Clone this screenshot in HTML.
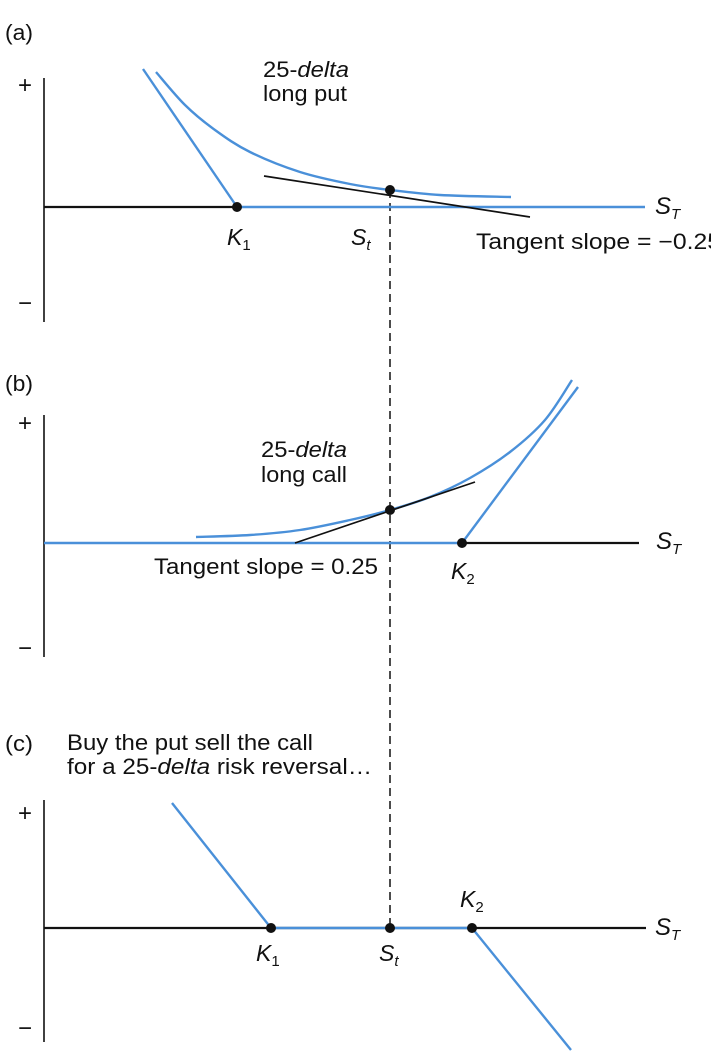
<!DOCTYPE html>
<html><head><meta charset="utf-8"><style>
html,body{margin:0;padding:0;background:#fff;}
svg{display:block;font-family:"Liberation Sans",Arial,sans-serif;}
text{fill:#111;}
</style></head><body>
<svg id="chart" width="711" height="1062" viewBox="0 0 711 1062" xmlns="http://www.w3.org/2000/svg"></svg>
<script>
const strikeK1a = 193;
const strikeK2b = 418;
const spotSt = 346;
const putLineA = [[99,138],[193,0]];
const putCurveX = [112,141,171,206,256,306,346,396,467];
const putCurveY = [135,102,77,55,35,23,17,12,10];
const putTangent = [[220,31],[486,-10]];
const callCurveX = [152,206,256,306,346,386,426,466,501,528];
const callCurveY = [6,8,13,23,33,46,65,91,123,163];
const callLineB = [[418,0],[534,156]];
const callTangent = [[251,0],[431,61]];
const rrX = [128,227,346,428,527];
const rrY = [125,0,0,0,-122];
const rrDots = [227,346,428];

const AX = 44;
const base = {a:207, b:543, c:928};
const sx = v => AX + v;
const sy = (p,v) => base[p] - v;
const svg = document.getElementById('chart');
const NS = 'http://www.w3.org/2000/svg';
function mk(tag, attrs){ const e=document.createElementNS(NS,tag); for(const k in attrs) e.setAttribute(k,attrs[k]); svg.appendChild(e); return e; }
function txt(x,y,s,size,extra){ const e=mk('text',Object.assign({x:x,y:y,'font-size':size},extra||{})); e.innerHTML=s; return e; }
const BLUE='#4a90d9';

[['a',78,322,85,303],['b',415,657,423,648],['c',800,1042,813,1028]].forEach(([p,t,b,pl,mi])=>{
  const ya=mk('line',{x1:AX,y1:t,x2:AX,y2:b,stroke:'#111','stroke-width':1.6});
  
  
  const plus=txt(25,pl+8,'+',24,{'text-anchor':'middle',fill:'#444'});
  
  
  const minus=txt(25,mi+8,'−',24,{'text-anchor':'middle',fill:'#444'});
  
  
});

const dl=mk('line',{x1:sx(spotSt),y1:sy('a',17),x2:sx(spotSt),y2:base.c,stroke:'#111','stroke-width':1.5,'stroke-dasharray':'8,5'});



function poly(p,pts,color,w,name){
  const e=mk('polyline',{points:pts.map(q=>sx(q[0])+','+sy(p,q[1])).join(' '),fill:'none',stroke:color,'stroke-width':w,'stroke-linejoin':'round'});
  
  
  return e;
}
function curve(p,xs,ys,name){
  const pts=xs.map((x,i)=>[sx(x),sy(p,ys[i])]);
  let d='M'+pts[0][0]+','+pts[0][1];
  for(let i=0;i<pts.length-1;i++){
    const p0=pts[i-1]||pts[i],p1=pts[i],p2=pts[i+1],p3=pts[i+2]||p2;
    d+=' C'+(p1[0]+(p2[0]-p0[0])/6)+','+(p1[1]+(p2[1]-p0[1])/6)+' '+(p2[0]-(p3[0]-p1[0])/6)+','+(p2[1]-(p3[1]-p1[1])/6)+' '+p2[0]+','+p2[1];
  }
  const e=mk('path',{d:d,fill:'none',stroke:BLUE,'stroke-width':2.4});
  
  
}
function dot(p,v,h,name){
  const e=mk('circle',{cx:sx(v),cy:sy(p,h),r:5,fill:'#111'});
  
  
}

poly('a',[[0,0],[strikeK1a,0]],'#111',2.2,'x-axis-a');
poly('a',[[strikeK1a,0],[601,0]],BLUE,2.6,'put-payoff-flat');
poly('a',putLineA,BLUE,2.4,'put-payoff-line');
curve('a',putCurveX,putCurveY,'put-value-curve');
poly('a',putTangent,'#111',1.7,'put-tangent-line');
dot('a',strikeK1a,0,'k1-dot-a');
dot('a',spotSt,17,'spot-dot-a');

poly('b',[[strikeK2b,0],[595,0]],'#111',2.2,'x-axis-b');
poly('b',[[0,0],[strikeK2b,0]],BLUE,2.6,'call-payoff-flat');
poly('b',callLineB,BLUE,2.4,'call-payoff-line');
curve('b',callCurveX,callCurveY,'call-value-curve');
poly('b',callTangent,'#111',1.7,'call-tangent-line');
dot('b',strikeK2b,0,'k2-dot-b');
dot('b',spotSt,33,'spot-dot-b');

poly('c',[[0,0],[602,0]],'#111',2.2,'x-axis-c');
poly('c',rrX.map((x,i)=>[x,rrY[i]]),BLUE,2.4,'risk-reversal-payoff');
rrDots.forEach((v,i)=>dot('c',v,0,'rr-dot-'+i));

function L(x,y,html,size,name,extra){const e=txt(x,y,html,size,extra);return e;}
L(5,40,'(a)',22,'panel-label-a',{textLength:28,lengthAdjust:'spacingAndGlyphs'});
L(263,77,'25-<tspan font-style="italic">delta</tspan>',22,'put-title-1',{textLength:86,lengthAdjust:'spacingAndGlyphs'});
L(263,101,'long put',22,'put-title-2',{textLength:84,lengthAdjust:'spacingAndGlyphs'});
L(227,245,'<tspan font-style="italic">K</tspan><tspan font-size="15" dy="5">1</tspan>',23,'k1-label-a');
L(351,245,'<tspan font-style="italic">S</tspan><tspan font-size="15" dy="5" font-style="italic">t</tspan>',23,'st-label-a');
L(655,214,'<tspan font-style="italic">S</tspan><tspan font-size="15" dy="5" font-style="italic">T</tspan>',24,'st-axis-label-a');
L(476,249,'Tangent slope = −0.25',22,'put-tangent-label',{textLength:245,lengthAdjust:'spacingAndGlyphs'});

L(5,391,'(b)',22,'panel-label-b',{textLength:28,lengthAdjust:'spacingAndGlyphs'});
L(261,457,'25-<tspan font-style="italic">delta</tspan>',22,'call-title-1',{textLength:86,lengthAdjust:'spacingAndGlyphs'});
L(261,482,'long call',22,'call-title-2',{textLength:86,lengthAdjust:'spacingAndGlyphs'});
L(154,574,'Tangent slope = 0.25',22,'call-tangent-label',{textLength:224,lengthAdjust:'spacingAndGlyphs'});
L(451,579,'<tspan font-style="italic">K</tspan><tspan font-size="15" dy="5">2</tspan>',23,'k2-label-b');
L(656,549,'<tspan font-style="italic">S</tspan><tspan font-size="15" dy="5" font-style="italic">T</tspan>',24,'st-axis-label-b');

L(5,751,'(c)',22,'panel-label-c',{textLength:28,lengthAdjust:'spacingAndGlyphs'});
L(67,750,'Buy the put sell the call',22,'rr-title-1',{textLength:246,lengthAdjust:'spacingAndGlyphs'});
L(67,774,'for a 25-<tspan font-style="italic">delta</tspan> risk reversal…',22,'rr-title-2',{textLength:305,lengthAdjust:'spacingAndGlyphs'});
L(256,961,'<tspan font-style="italic">K</tspan><tspan font-size="15" dy="5">1</tspan>',23,'k1-label-c');
L(379,961,'<tspan font-style="italic">S</tspan><tspan font-size="15" dy="5" font-style="italic">t</tspan>',23,'st-label-c');
L(460,907,'<tspan font-style="italic">K</tspan><tspan font-size="15" dy="5">2</tspan>',23,'k2-label-c');
L(655,935,'<tspan font-style="italic">S</tspan><tspan font-size="15" dy="5" font-style="italic">T</tspan>',24,'st-axis-label-c');
</script>
</body></html>
